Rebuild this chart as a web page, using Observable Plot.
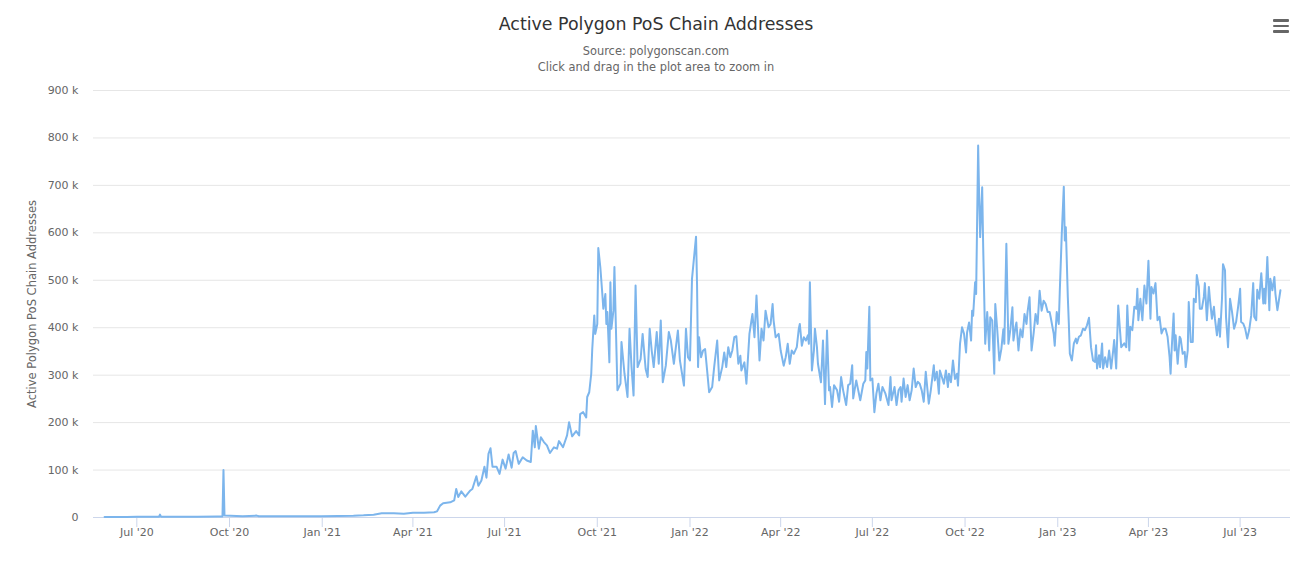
<!DOCTYPE html>
<html>
<head>
<meta charset="utf-8">
<script src="https://cdn.jsdelivr.net/npm/d3@7"></script>
<script src="https://cdn.jsdelivr.net/npm/@observablehq/plot@0.6"></script>
<style>
  body { margin: 0; background: #fff; font-family: "DejaVu Sans", sans-serif; }
  #wrap { position: relative; width: 1312px; height: 578px; overflow: hidden; }
  #title { position: absolute; top: 12px; left: 0; width: 1312px; text-align: center; font-size: 17.4px; color: #333; line-height: 24px; }
  #sub { position: absolute; top: 43px; left: 0; width: 1312px; text-align: center; font-size: 11.4px; color: #666; line-height: 16px; }
  #menu { position: absolute; left: 1273px; top: 19px; width: 16px; }
  #menu div { height: 2.5px; background: #666; border-radius: 1px; margin-bottom: 3px; }
  #chart { position: absolute; left: 0; top: 0; }
</style>
</head>
<body>
<div id="wrap">
  <div id="chart"></div>
  <div id="title">Active Polygon PoS Chain Addresses</div>
  <div id="sub">Source: polygonscan.com<br>Click and drag in the plot area to zoom in</div>
  <div id="menu"><div></div><div></div><div></div></div>
</div>
<script>
// Daily active addresses, [days after 2020-07-01, thousands]
const baseDate = "2020-07-01";
const data2020 = [[-32,1],[-25,1.2],[-10,1.3],[0,1.5],[15,1.4],[22,1.6],[23,6],[24,1.8],[40,1.5],[60,1.7],[80,2],[85,2.2],[86,100],[87,4],[93,3.5],[105,2.8],[119,4],[121,2.8],[140,2.6],[160,2.7],[183,2.8]];
const data2021 = [[200,3],[215,3.5],[225,4.5],[235,6],[243,9],[255,9],[265,8],[274,10],[285,10],[295,11],[298,13],[301,25],[304,30],[311,32],[315,36],[317,60],[319,43],[322,55],[326,44],[331,57],[333,60],[337,87],[339,67],[342,78],[345,107],[347,84],[349,134],[351,146],[353,107],[357,107],[360,92],[363,122],[366,103],[369,133],[372,105],[374,136],[376,140],[379,113],[383,127],[387,120],[391,117],[393,183],[395,148],[396,193],[399,145],[401,169],[404,159],[407,152],[410,136],[414,148],[417,145],[419,161],[423,148],[427,173],[429,201],[432,171],[436,182],[439,173],
  [440,218],[443,222],[446,211],[447,254],[449,264],[451,303],[452,355],[454,426],[455,387],[457,408],[458,568],[460,528],[462,471],[463,440],[465,471],[466,408],[467,433],[469,327],[470,496],[471,398],[473,436],[474,528],[477,268],[480,282],[481,370],[484,303],[487,254],[489,398],[491,317],[493,257],[495,489],[497,317],[500,334],[502,387],[505,313],[507,296],[509,398],[511,352],[513,317],[516,391],[518,324],[520,415],[522,285],[525,320],[528,391],[530,373],[533,324],[535,359],[537,394],[539,331],[543,278],[545,398],[547,338]];
const data2022 = [[549,331],[551,503],[555,592],[556,492],[557,317],[558,380],[560,338],[562,352],[564,355],[566,310],[568,264],[571,275],[573,317],[576,373],[578,289],[581,317],[583,348],[585,317],[587,359],[589,338],[591,352],[593,380],[595,382],[597,324],[599,341],[600,310],[603,327],[605,282],[608,387],[611,429],[613,380],[615,468],[618,331],[620,398],[622,373],[624,436],[627,401],[629,408],[631,450],[632,415],[634,380],[637,387],[639,352],[642,320],[644,338],[646,366],[648,324],[650,352],[652,345],[655,359],[657,398],[658,408],[660,362],[662,380],[664,373],[666,384],[667,366],[668,496],[670,310],[672,352],[673,398],[675,359],[676,324],[679,285],[681,373],[683,239],[685,394],[687,268],
  [688,275],[690,233],[692,279],[695,268],[697,244],[699,296],[701,268],[704,237],[706,279],[708,282],[710,321],[711,251],[714,289],[716,268],[718,247],[721,282],[723,289],[724,349],[725,314],[727,444],[728,289],[730,293],[732,222],[734,261],[736,282],[738,247],[740,275],[743,261],[746,237],[748,296],[749,247],[752,275],[754,237],[756,268],[758,275],[759,244],[761,293],[763,254],[765,279],[767,247],[769,268],[771,314],[773,275],[775,286],[777,282],[779,268],[781,244],[783,307],[786,240],[788,268],[791,321],[792,289],[794,307],[796,261],
  [797,310],[799,296],[801,282],[803,310],[805,275],[806,303],[808,285],[810,331],[812,292],[814,303],[815,278],[817,366],[819,401],[821,387],[823,348],[824,390],[826,411],[828,373],[829,436],[830,425],[832,496],[833,471],[835,784],[836,675],[837,591],[839,696],[840,570],[842,366],[844,433],[846,352],[847,422],[849,415],[851,303],[852,450],[854,394],[856,331],[858,355],[860,397],[861,366],[863,577],[865,366],[867,397],[869,443],[870,373],[872,401],[873,411],[875,352],[877,397],[879,380],[881,429],[883,408],[884,433],[886,464],[888,352],[890,387],[892,429],[894,408],[896,478],[898,436],[900,457],[902,450],[904,433],[906,433],[907,422],[910,387],[911,362],[913,433]];
const data2023 = [[915,408],[916,475],[918,598],[920,697],[921,584],[922,612],[924,464],[925,409],[926,345],[928,331],[930,367],[932,377],[933,367],[935,381],[937,384],[939,398],[941,395],[943,405],[945,421],[947,359],[949,331],[951,328],[952,363],[953,314],[955,342],[956,317],[958,367],[959,314],[961,338],[963,317],[965,352],[967,314],[969,352],[970,374],[971,345],[972,314],[974,447],[976,388],[977,359],[980,367],[982,359],[983,447],[985,352],[986,402],[988,395],[990,444],[992,440],[993,482],[994,416],[996,461],[998,416],[1000,489],[1002,451],[1004,541],[1006,419],[1007,486],[1009,472],[1011,494],[1013,416],[1015,423],[1017,388],[1019,398],[1021,398],[1023,381],[1025,338],[1026,303],[1027,352],[1029,430],[1030,352],[1031,384],[1033,324],[1035,381],[1036,377],[1038,345],[1040,349],[1041,317],[1043,352],[1044,454],[1046,370],[1048,370],[1049,461],[1051,454],[1052,511],[1054,486],[1055,440],[1057,440],[1059,465],[1060,494],[1062,416],[1064,486],[1065,461],[1067,419],[1069,444],[1070,419],[1072,384],[1074,419],[1075,381],[1077,461],[1078,534],[1080,521],[1081,423],[1083,359],[1085,461],[1087,433],[1089,398],[1091,412],[1093,444],[1095,482],[1096,412],[1098,409],[1100,398],[1102,377],[1104,395],[1106,426],[1108,494],[1109,423],[1111,416],[1112,480],[1114,461],[1116,515],[1118,451],[1119,482],[1120,451],[1122,549],[1124,437],[1125,503],[1127,479],[1129,507],[1130,472],[1132,437],[1133,451],[1135,479]];

const xTickDates = ["2020-07-01","2020-10-01","2021-01-01","2021-04-01","2021-07-01","2021-10-01","2022-01-01","2022-04-01","2022-07-01","2022-10-01","2023-01-01","2023-04-01","2023-07-01"];
const xTickLabels = ["Jul '20","Oct '20","Jan '21","Apr '21","Jul '21","Oct '21","Jan '22","Apr '22","Jul '22","Oct '22","Jan '23","Apr '23","Jul '23"];
const yTicks = [0,100000,200000,300000,400000,500000,600000,700000,800000,900000];
const yTitle = "Active Polygon PoS Chain Addresses";
const xDomainDays = [-43, 1145];

const base = new Date(baseDate + "T00:00:00Z");
const rows = [...data2020, ...data2021, ...data2022, ...data2023].map(([d, v]) => ({date: d3.utcDay.offset(base, d), value: v * 1000}));
const tickDates = xTickDates.map(s => new Date(s + "T00:00:00Z"));

const chart = Plot.plot({
  width: 1312,
  height: 578,
  marginTop: 90,
  marginBottom: 61,
  marginLeft: 93,
  marginRight: 22,
  style: {fontFamily: "'DejaVu Sans', sans-serif", fontSize: "11px", color: "#666", background: "transparent", overflow: "visible"},
  x: {type: "utc", domain: xDomainDays.map(d => d3.utcDay.offset(base, d))},
  y: {domain: [0, 900000]},
  marks: [
    Plot.gridY(yTicks.filter(t => t > 0), {stroke: "#e6e6e6", strokeOpacity: 1}),
    Plot.axisY(yTicks, {tickSize: 0, tickPadding: 15, label: null, fill: "#666",
      tickFormat: d => d === 0 ? "0" : (d / 1000) + " k"}),
    Plot.ruleY([0], {stroke: "#ccd6eb"}),
    Plot.axisX(tickDates, {tickSize: 10, tickPadding: 1, stroke: "#ccd6eb", label: null, fill: "#666",
      tickFormat: (d, i) => xTickLabels[i]}),
    Plot.line(rows, {x: "date", y: "value", stroke: "#7cb5ec", strokeWidth: 2, curve: "linear"}),
    Plot.text([yTitle], {frameAnchor: "left", textAnchor: "middle", rotate: -90, dx: -61, fill: "#666", fontSize: 11.5, text: d => d})
  ]
});
document.getElementById("chart").appendChild(chart);
</script>
</body>
</html>
